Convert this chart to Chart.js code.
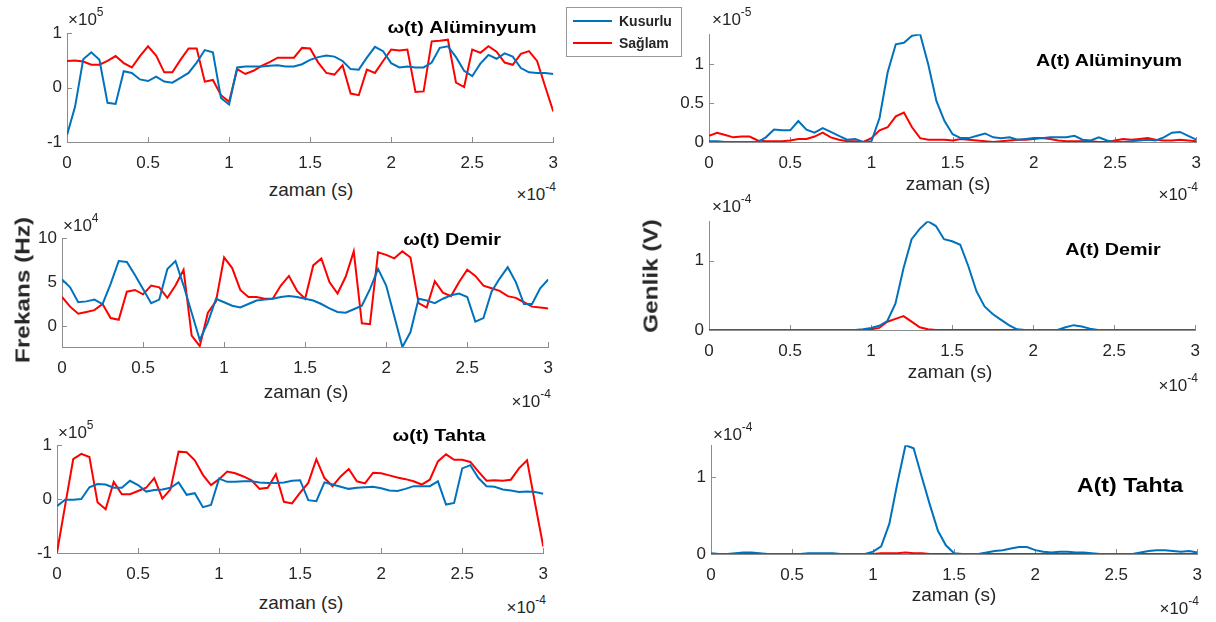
<!DOCTYPE html>
<html>
<head>
<meta charset="utf-8">
<script src="https://cdn.jsdelivr.net/npm/chart.js@4.4.1/dist/chart.umd.min.js"></script>
<style>
  body { margin:0; background:#fff; }
  #page { position:relative; width:1216px; height:622px; overflow:hidden; font-family:"Liberation Sans", Arial, sans-serif; }
  canvas { position:absolute; }
  .t { position:absolute; white-space:nowrap; color:#262626; line-height:1; z-index:2; }
  .c { transform:translate(-50%,-50%); }
  .r { transform:translate(-100%,-50%); }
  .l { transform:translate(0,-50%); }
  .title { font-weight:bold; color:#000; font-size:17px; transform:translate(-50%,-50%) scaleX(1.16); }
  .xl { font-size:19px; }
  .mul { font-size:17px; }
  .mul sup { font-size:12px; position:relative; top:-2px; }
  .yl { font-weight:bold; font-size:21px; transform:translate(-50%,-50%) rotate(-90deg) scaleX(1.16); }
  #legend { position:absolute; left:566px; top:7px; width:114px; height:48px; border:1px solid #999; background:#fff; z-index:3; }
  #legend .ln { position:absolute; left:6px; width:39px; height:2px; }
  #legend .lt { position:absolute; left:52px; font-weight:bold; font-size:14px; color:#262626; line-height:1; transform:translateY(-50%); }
</style>
</head>
<body>
<div id="page">
  <canvas id="c1"></canvas>
  <canvas id="c2"></canvas>
  <canvas id="c3"></canvas>
  <canvas id="c4"></canvas>
  <canvas id="c5"></canvas>
  <canvas id="c6"></canvas>

  <!-- sol sutun: frekans -->
  <div class="t mul l" style="left:68px;top:18px">×10<sup>5</sup></div>
  <div class="t title" style="left:462px;top:27px">ω(t) Alüminyum</div>
  <div class="t xl c" style="left:311px;top:189px">zaman (s)</div>
  <div class="t mul r" style="left:556px;top:193px">×10<sup>-4</sup></div>

  <div class="t mul l" style="left:63px;top:224px">×10<sup>4</sup></div>
  <div class="t title" style="left:452px;top:239px">ω(t) Demir</div>
  <div class="t xl c" style="left:306px;top:391px">zaman (s)</div>
  <div class="t mul r" style="left:551px;top:400px">×10<sup>-4</sup></div>

  <div class="t mul l" style="left:58px;top:431px">×10<sup>5</sup></div>
  <div class="t title" style="left:439px;top:435px">ω(t) Tahta</div>
  <div class="t xl c" style="left:301px;top:602px">zaman (s)</div>
  <div class="t mul r" style="left:546px;top:606px">×10<sup>-4</sup></div>

  <div class="t yl" style="left:22px;top:290px">Frekans (Hz)</div>

  <!-- sag sutun: genlik -->
  <div class="t mul l" style="left:712px;top:18px">×10<sup>-5</sup></div>
  <div class="t title" style="left:1109px;top:60px">A(t) Alüminyum</div>
  <div class="t xl c" style="left:948px;top:183px">zaman (s)</div>
  <div class="t mul r" style="left:1198px;top:193px">×10<sup>-4</sup></div>

  <div class="t mul l" style="left:712px;top:205px">×10<sup>-4</sup></div>
  <div class="t title" style="left:1113px;top:249px">A(t) Demir</div>
  <div class="t xl c" style="left:950px;top:371px">zaman (s)</div>
  <div class="t mul r" style="left:1198px;top:384px">×10<sup>-4</sup></div>

  <div class="t mul l" style="left:713px;top:433px">×10<sup>-4</sup></div>
  <div class="t title" style="left:1130px;top:484px;font-size:21px;transform:translate(-50%,-50%) scaleX(1.1)">A(t) Tahta</div>
  <div class="t xl c" style="left:954px;top:594px">zaman (s)</div>
  <div class="t mul r" style="left:1199px;top:607px">×10<sup>-4</sup></div>

  <div class="t yl" style="left:650px;top:276px">Genlik (V)</div>

  <div id="legend">
    <div class="ln" style="top:12px;background:#0072BD"></div>
    <div class="lt" style="top:13px">Kusurlu</div>
    <div class="ln" style="top:34px;background:#FF0000"></div>
    <div class="lt" style="top:35px">Sağlam</div>
  </div>
</div>
<script>
Chart.defaults.font.family = '"Liberation Sans", Arial, sans-serif';

// zaman ekseni (x10^-4 s)
const zaman = [0, 0.05, 0.1, 0.15, 0.2, 0.25, 0.3, 0.35, 0.4, 0.45,
  0.5, 0.55, 0.6, 0.65, 0.7, 0.75, 0.8, 0.85, 0.9, 0.95,
  1.0, 1.05, 1.1, 1.15, 1.2, 1.25, 1.3, 1.35, 1.4, 1.45,
  1.5, 1.55, 1.6, 1.65, 1.7, 1.75, 1.8, 1.85, 1.9, 1.95,
  2.0, 2.05, 2.1, 2.15, 2.2, 2.25, 2.3, 2.35, 2.4, 2.45,
  2.5, 2.55, 2.6, 2.65, 2.7, 2.75, 2.8, 2.85, 2.9, 2.95,
  3.0];
const xTicks = [0, 0.5, 1, 1.5, 2, 2.5, 3];

// w(t) aluminyum (x10^5 Hz)
const aluKusurluW = [-0.87, -0.35, 0.52, 0.65, 0.51, -0.28, -0.30, 0.30, 0.27, 0.15,
  0.12, 0.20, 0.11, 0.09, 0.18, 0.27, 0.46, 0.69, 0.65, -0.19,
  -0.31, 0.37, 0.39, 0.39, 0.39, 0.40, 0.41, 0.39, 0.39, 0.43,
  0.51, 0.56, 0.59, 0.57, 0.49, 0.34, 0.33, 0.55, 0.75, 0.67,
  0.45, 0.37, 0.39, 0.37, 0.37, 0.46, 0.73, 0.76, 0.56, 0.31,
  0.21, 0.44, 0.60, 0.53, 0.63, 0.57, 0.36, 0.28, 0.27, 0.27,
  0.25];
const aluSaglamW = [0.49, 0.50, 0.48, 0.42, 0.42, 0.49, 0.58, 0.45, 0.37, 0.58,
  0.76, 0.59, 0.28, 0.28, 0.51, 0.72, 0.72, 0.11, 0.14, -0.14,
  -0.26, 0.34, 0.25, 0.31, 0.40, 0.47, 0.55, 0.55, 0.55, 0.73,
  0.72, 0.46, 0.27, 0.24, 0.41, -0.11, -0.14, 0.33, 0.27, 0.49,
  0.70, 0.68, 0.70, -0.08, -0.07, 0.85, 0.86, 0.88, 0.09, 0.01,
  0.70, 0.64, 0.76, 0.66, 0.46, 0.42, 0.62, 0.67, 0.49, 0.02,
  -0.44];

// w(t) demir (x10^4 Hz)
const demirKusurluW = [5.3, 4.4, 2.7, 2.8, 3.0, 2.5, 4.8, 7.4, 7.3, 5.8,
  4.2, 2.6, 3.0, 6.5, 7.4, 4.6, 1.5, -1.6, 0.4, 3.1,
  2.7, 2.3, 2.1, 2.5, 2.9, 3.0, 3.1, 3.3, 3.4, 3.3,
  3.1, 2.9, 2.5, 2.0, 1.6, 1.5, 1.9, 2.3, 4.2, 6.5,
  4.6, 1.1, -2.4, -0.7, 3.1, 2.9, 2.6, 3.1, 3.5, 3.7,
  3.3, 0.5, 0.9, 3.9, 5.4, 6.7, 5.0, 2.5, 2.5, 4.3,
  5.3];
const demirSaglamW = [3.3, 2.2, 1.4, 1.6, 1.8, 2.5, 0.9, 0.7, 3.9, 4.1,
  3.6, 4.6, 4.4, 3.2, 4.6, 6.4, -1.1, -2.3, 1.5, 2.8,
  7.8, 6.6, 4.1, 3.3, 3.3, 3.1, 3.1, 4.6, 5.7, 4.0,
  3.1, 6.9, 7.7, 5.0, 3.7, 5.6, 8.5, 0.3, 0.2, 8.4,
  8.1, 7.7, 8.5, 7.8, 2.6, 2.1, 5.1, 3.8, 3.4, 5.0,
  6.4, 5.7, 4.6, 4.3, 4.0, 3.4, 3.2, 2.7, 2.2, 2.1,
  2.0];

// w(t) tahta (x10^5 Hz)
const tahtaKusurluW = [-0.13, -0.01, -0.01, 0.0, 0.22, 0.28, 0.27, 0.21, 0.21, 0.34,
  0.26, 0.14, 0.17, 0.18, 0.21, 0.31, 0.08, 0.11, -0.15, -0.11,
  0.38, 0.32, 0.32, 0.33, 0.33, 0.31, 0.30, 0.30, 0.31, 0.34,
  0.35, -0.02, -0.04, 0.31, 0.27, 0.23, 0.19, 0.21, 0.22, 0.23,
  0.20, 0.16, 0.15, 0.19, 0.24, 0.24, 0.24, 0.33, -0.10, -0.07,
  0.57, 0.63, 0.39, 0.24, 0.23, 0.18, 0.16, 0.13, 0.14, 0.13,
  0.10];
const tahtaSaglamW = [-0.99, -0.12, 0.74, 0.84, 0.78, -0.06, -0.19, 0.32, 0.09, 0.09,
  0.15, 0.21, 0.39, 0.01, 0.18, 0.88, 0.87, 0.72, 0.45, 0.26,
  0.37, 0.51, 0.48, 0.42, 0.35, 0.19, 0.21, 0.46, -0.05, -0.08,
  0.12, 0.30, 0.74, 0.39, 0.24, 0.42, 0.56, 0.33, 0.29, 0.49,
  0.48, 0.44, 0.40, 0.37, 0.33, 0.27, 0.36, 0.70, 0.83, 0.73,
  0.73, 0.69, 0.51, 0.34, 0.35, 0.34, 0.36, 0.57, 0.72, -0.09,
  -0.88];

// A(t) aluminyum (x10^-5 V)
const aluKusurluA = [0.01, 0.01, 0.0, 0.0, 0.0, 0.0, 0.0, 0.06, 0.16, 0.15,
  0.15, 0.27, 0.16, 0.12, 0.18, 0.13, 0.08, 0.03, 0.04, 0.0,
  0.01, 0.31, 0.90, 1.26, 1.28, 1.37, 1.39, 1.0, 0.53, 0.27,
  0.10, 0.05, 0.05, 0.08, 0.11, 0.06, 0.05, 0.06, 0.03, 0.04,
  0.05, 0.05, 0.06, 0.06, 0.06, 0.08, 0.03, 0.02, 0.06, 0.02,
  0.0, 0.0, 0.01, 0.02, 0.03, 0.02, 0.06, 0.12, 0.13, 0.08,
  0.03];
const aluSaglamA = [0.08, 0.12, 0.09, 0.06, 0.07, 0.07, 0.02, 0.01, 0.01, 0.01,
  0.02, 0.04, 0.04, 0.07, 0.12, 0.06, 0.03, 0.01, 0.01, 0.0,
  0.05, 0.15, 0.19, 0.33, 0.38, 0.19, 0.05, 0.03, 0.03, 0.03,
  0.02, 0.04, 0.03, 0.02, 0.01, 0.0, 0.01, 0.02, 0.03, 0.03,
  0.04, 0.05, 0.04, 0.02, 0.01, 0.01, 0.01, 0.01, 0.0, 0.0,
  0.02, 0.04, 0.03, 0.04, 0.05, 0.03, 0.02, 0.02, 0.03, 0.02,
  0.01];

// A(t) demir (x10^-4 V)
const demirKusurluA = [0, 0, 0, 0, 0, 0, 0, 0, 0, 0,
  0, 0, 0, 0, 0, 0, 0, 0, 0, 0.01,
  0.03, 0.06, 0.13, 0.38, 0.89, 1.31, 1.46, 1.57, 1.50, 1.31,
  1.28, 1.23, 0.92, 0.56, 0.34, 0.23, 0.15, 0.07, 0.01, 0,
  0, 0, 0, 0, 0.04, 0.07, 0.05, 0.02, 0, 0,
  0, 0, 0, 0, 0, 0, 0, 0, 0, 0,
  0];
const demirSaglamA = [0, 0, 0, 0, 0, 0, 0, 0, 0, 0,
  0, 0, 0, 0, 0, 0, 0, 0, 0, 0,
  0.01, 0.03, 0.12, 0.16, 0.20, 0.12, 0.04, 0.01, 0, 0,
  0, 0, 0, 0, 0, 0, 0, 0, 0, 0,
  0, 0, 0, 0, 0, 0, 0, 0, 0, 0,
  0, 0, 0, 0, 0, 0, 0, 0, 0, 0,
  0];

// A(t) tahta (x10^-4 V)
const tahtaKusurluA = [0.01, 0.0, 0.0, 0.01, 0.02, 0.02, 0.01, 0.0, 0.0, 0.0,
  0.0, 0.0, 0.01, 0.01, 0.01, 0.01, 0.0, 0.0, 0.0, 0.0,
  0.03, 0.10, 0.39, 0.92, 1.41, 1.37, 1.0, 0.64, 0.30, 0.11,
  0.01, 0, 0, 0, 0.02, 0.04, 0.05, 0.07, 0.09, 0.09,
  0.05, 0.03, 0.02, 0.03, 0.03, 0.02, 0.02, 0.01, 0, 0,
  0, 0, 0, 0.02, 0.04, 0.05, 0.05, 0.04, 0.03, 0.04,
  0.02];
const tahtaSaglamA = [0, 0, 0, 0, 0, 0, 0, 0, 0, 0,
  0, 0, 0, 0, 0, 0, 0, 0, 0, 0,
  0, 0.01, 0.01, 0.01, 0.02, 0.01, 0.01, 0, 0, 0,
  0, 0, 0, 0, 0, 0, 0, 0, 0, 0,
  0, 0, 0, 0, 0, 0, 0, 0, 0, 0,
  0, 0, 0, 0, 0, 0, 0, 0, 0, 0,
  0];

// y ekseni isaretleri
const yTicksW5 = [-1, 0, 1];
const yTicksW4 = [0, 5, 10];
const yTicksAlu = [0, 0.5, 1];
const yTicksA4 = [0, 1];

const axisGray = '#8c8c8c';
const tickText = '#262626';

// MATLAB gibi ice donuk tick cizgileri
const inTicks = {
  id: 'inTicks',
  beforeDatasetsDraw(chart) {
    const { ctx, chartArea: a, scales: { x, y } } = chart;
    ctx.save();
    ctx.strokeStyle = axisGray;
    ctx.lineWidth = 1;
    ctx.beginPath();
    x.ticks.forEach(t => {
      const px = Math.round(x.getPixelForValue(t.value)) + 0.5;
      ctx.moveTo(px, a.bottom);
      ctx.lineTo(px, a.bottom - 5);
    });
    y.ticks.forEach(t => {
      const py = Math.round(y.getPixelForValue(t.value)) + 0.5;
      ctx.moveTo(a.left, py);
      ctx.lineTo(a.left + 5, py);
    });
    ctx.stroke();
    ctx.restore();
  }
};

function drawPanel(id, area, kusurlu, saglam, yMin, yMax, yTicks) {
  const padL = 50, padT = 12, padR = 14, padB = 34;
  const cv = document.getElementById(id);
  cv.width = area.w + padL + padR;
  cv.height = area.h + padT + padB;
  cv.style.left = (area.x - padL) + 'px';
  cv.style.top = (area.y - padT) + 'px';

  const pts = arr => zaman.map((t, i) => ({ x: t, y: arr[i] }));

  new Chart(cv, {
    type: 'line',
    data: {
      datasets: [
        { label: 'Kusurlu', data: pts(kusurlu), borderColor: '#0072BD', borderWidth: 2, pointRadius: 0, tension: 0 },
        { label: 'Sağlam', data: pts(saglam), borderColor: '#FF0000', borderWidth: 2, pointRadius: 0, tension: 0 }
      ]
    },
    options: {
      responsive: false,
      animation: false,
      events: [],
      layout: { padding: { top: padT, right: padR, left: 0, bottom: 0 } },
      plugins: { legend: { display: false }, tooltip: { enabled: false } },
      scales: {
        x: {
          type: 'linear', min: 0, max: 3,
          afterBuildTicks: s => { s.ticks = xTicks.map(v => ({ value: v })); },
          afterFit: s => { s.height = padB; },
          grid: { display: false, drawTicks: false },
          border: { display: true, color: axisGray, width: 1 },
          ticks: { padding: 11, color: tickText, font: { size: 17 }, maxRotation: 0, autoSkip: false, callback: v => String(v) }
        },
        y: {
          type: 'linear', min: yMin, max: yMax,
          afterBuildTicks: s => { s.ticks = yTicks.map(v => ({ value: v })); },
          afterFit: s => { s.width = padL; },
          grid: { display: false, drawTicks: false },
          border: { display: true, color: axisGray, width: 1 },
          ticks: { padding: 5, color: tickText, font: { size: 17 }, autoSkip: false, callback: v => String(v) }
        }
      }
    },
    plugins: [inTicks]
  });
}

drawPanel('c1', { x: 67, y: 30, w: 488, h: 112 }, aluKusurluW, aluSaglamW, -1, 1, yTicksW5);
drawPanel('c2', { x: 62, y: 235, w: 488, h: 112 }, demirKusurluW, demirSaglamW, -2.4, 10, yTicksW4);
drawPanel('c3', { x: 57, y: 442, w: 488, h: 111 }, tahtaKusurluW, tahtaSaglamW, -1, 1, yTicksW5);
drawPanel('c4', { x: 709, y: 31, w: 489, h: 111 }, aluKusurluA, aluSaglamA, 0, 1.39, yTicksAlu);
drawPanel('c5', { x: 709, y: 218, w: 488, h: 112 }, demirKusurluA, demirSaglamA, 0, 1.57, yTicksA4);
drawPanel('c6', { x: 711, y: 442, w: 488, h: 112 }, tahtaKusurluA, tahtaSaglamA, 0, 1.41, yTicksA4);
</script>
</body>
</html>
